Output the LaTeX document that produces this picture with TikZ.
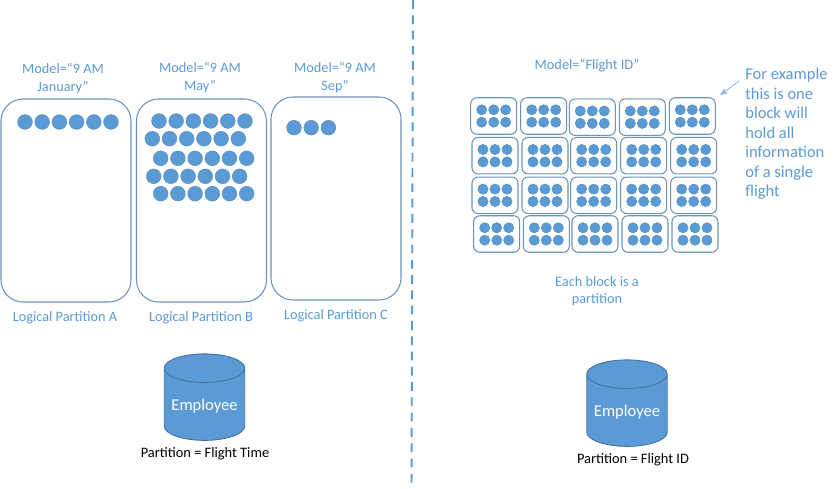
\documentclass[tikz,border=0pt]{standalone}
\usepackage{fontspec}
\setmainfont{Carlito}
\usetikzlibrary{arrows,shapes.geometric}
\definecolor{office}{HTML}{5B9BD5}
\definecolor{officedark}{HTML}{41719C}
\definecolor{edgeblue}{HTML}{6C93B8}

\begin{document}
\begin{tikzpicture}
[x=0.02cm,y=-0.02cm,
  label node/.style={text=office,font=\fontsize{8.15pt}{9.8pt}\selectfont,align=center,inner sep=0pt},
  note node/.style={text=office,font=\fontsize{9.4pt}{11.1pt}\selectfont,align=left,inner sep=0pt,anchor=north west},
  cap node/.style={text=black,font=\fontsize{8.2pt}{10pt}\selectfont,inner sep=0pt},
  partition/.style={draw=edgeblue,line width=0.6pt,rounded corners=0.44cm,inner sep=0pt,minimum width=2.6cm,minimum height=4.06cm},
  blockbox/.style={draw=edgeblue,line width=0.6pt,rounded corners=0.12cm,inner sep=0pt,minimum width=0.92cm,minimum height=0.73cm},
  big dot/.style={circle,fill=office,draw=officedark!40!office,line width=0.25pt,inner sep=0pt,minimum size=0.295cm},
  small dot/.style={circle,fill=office,draw=officedark!40!office,line width=0.25pt,inner sep=0pt,minimum size=0.205cm},
  store/.style={cylinder,shape border rotate=90,aspect=0.433,draw=officedark,line width=0.5pt,cylinder uses custom fill,
    cylinder body fill=office,cylinder end fill=office,minimum width=1.61cm,minimum height=1.73cm,inner sep=0pt,
    text=white,font=\fontsize{9.4pt}{11pt}\selectfont,text height=9pt,text depth=2pt}]
  \useasboundingbox (0,0) rectangle (840,489);

  % divider
  \coordinate (divtop) at (413,0);
  \coordinate (divbot) at (411.5,489);
  \draw[office,line width=1.1pt,dash pattern=on 5pt off 3.7pt] (divtop) -- (divbot);

  % left side
  \node[label node] (modelA) at (63,78.5) {Model=“9 AM\\January”};
  \node[label node] (modelB) at (200,77.5) {Model=“9 AM\\May”};
  \node[label node] (modelC) at (335,77.5) {Model=“9 AM\\Sep”};

  \node[partition] (partA) at (66,200.5) {};
  \node[partition] (partB) at (201.5,200.5) {};
  \node[partition] (partC) at (336,198.5) {};

  \node[label node] (logicalA) at (65,317.5) {Logical Partition A};
  \node[label node] (logicalB) at (201,317.5) {Logical Partition B};
  \node[label node] (logicalC) at (336,315.5) {Logical Partition C};

  \foreach \i in {0,...,5}
    \node[big dot] (jan\i) at (25+17.2*\i,122) {};
  \foreach \i in {0,1,2}
    \node[big dot] (sep\i) at (294+17.2*\i,127.7) {};
  \foreach \row/\startx/\rowy in {1/159/121,2/152.3/138.7,3/160.7/158.3,4/153.7/176.3,5/160.7/193.7}
    \foreach \i in {0,...,5}
      \node[big dot] (may\row\i) at (\startx+17.2*\i,\rowy) {};

  \node[store] (empleft) at (204.5,404.5) {Employee};
  \node[cap node] (capleft) at (205,454) {Partition = Flight Time};

  % right side
  \node[label node] (modelD) at (587,65.5) {Model=“Flight ID”};
  \node[label node] (eachblock) at (597,291) {Each block is a\\partition};

  \foreach \name/\bx/\by in {a1/493.7/116,a2/543.7/116,a3/592.3/117.2,a4/642.3/117.2,a5/692.3/116,
      b1/495/155.7,b2/545/155.7,b3/593.7/155.7,b4/643.7/155.7,b5/693.7/155.7,
      c1/495/195.3,c2/545/195.3,c3/593.7/195.3,c4/643.7/195.3,c5/693.7/195.3,
      d1/496.7/234,d2/546.3/234,d3/595/234,d4/645/234,d5/695/234}
  {
    \node[blockbox] (\name) at (\bx,\by) {};
    \foreach \col in {-1,0,1}
      \foreach \line/\off in {u/-6.2,l/6.2}
        \node[small dot] (\name\line\col) at (\bx+12*\col,\by+\off) {};
  }

  \node[note node] (note) at (745,68) {For example\\this is one\\block will\\hold all\\information\\of a single\\flight};
  \coordinate (notefoot) at (739,81);
  \coordinate (notehead) at (720.5,95);
  \draw[->,>=stealth',office!70,line width=0.5pt] (notefoot) -- (notehead);

  \node[store] (empright) at (627,410.5) {Employee};
  \node[cap node] (capright) at (633,460) {Partition = Flight ID};

\end{tikzpicture}
\end{document}
